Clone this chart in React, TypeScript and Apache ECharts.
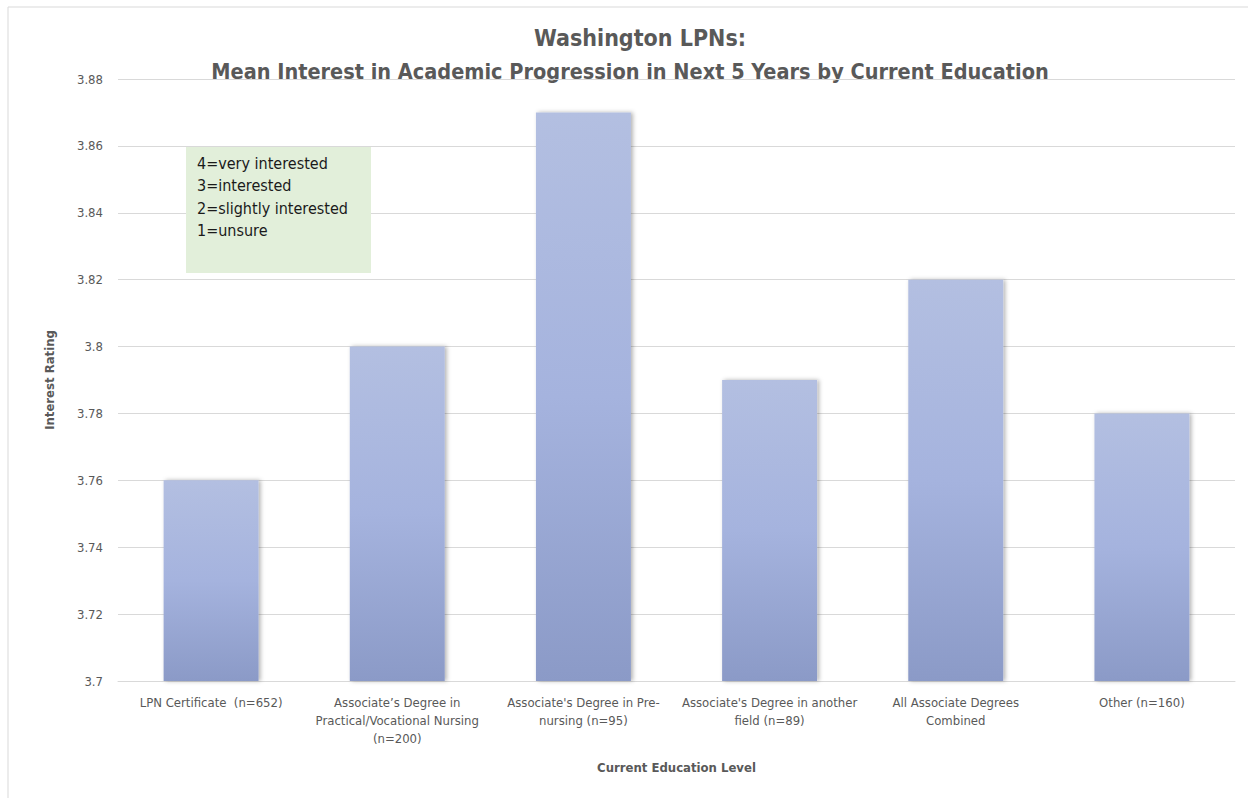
import React, { useEffect, useRef } from "react";
import * as echarts from "echarts";

const categories = [
  "LPN Certificate  (n=652)",
  "Associate’s Degree in\nPractical/Vocational Nursing\n(n=200)",
  "Associate's Degree in Pre-\nnursing (n=95)",
  "Associate's Degree in another\nfield (n=89)",
  "All Associate Degrees\nCombined",
  "Other (n=160)",
];
const meanInterest = [3.76, 3.8, 3.87, 3.79, 3.82, 3.78];
const yMin = 3.7;
const yMax = 3.88;
const yStep = 0.02;
const titleLine1 = "Washington LPNs:";
const titleLine2 = "Mean Interest in Academic Progression in Next 5 Years by Current Education";
const scaleNotes = ["4=very interested", "3=interested", "2=slightly interested", "1=unsure"];

const FONT = "'Liberation Sans Narrow', 'DejaVu Sans Condensed', 'Open Sans', sans-serif";

export default function App() {
  const ref = useRef<HTMLDivElement>(null);
  useEffect(() => {
    document.body.style.margin = "0";
    const chart = echarts.init(ref.current!, undefined, { renderer: "svg" });
    chart.setOption({
      animation: false,
      backgroundColor: "#ffffff",
      textStyle: { fontFamily: FONT },
      grid: { left: 118, right: 13, top: 79, bottom: 117, containLabel: false },
      xAxis: {
        type: "category",
        data: categories,
        axisLine: { show: true, lineStyle: { color: "#d9d9d9", width: 1 } },
        axisTick: { show: false },
        axisLabel: {
          interval: 0,
          color: "#595959",
          fontSize: 13,
          fontFamily: FONT,
          lineHeight: 18,
          margin: 12,
        },
        name: "Current Education Level",
        nameLocation: "middle",
        nameGap: 80,
        nameTextStyle: { color: "#595959", fontSize: 13, fontWeight: "bold", fontFamily: FONT },
      },
      yAxis: {
        type: "value",
        min: yMin,
        max: yMax,
        interval: yStep,
        axisLine: { show: false },
        axisTick: { show: false },
        splitLine: { lineStyle: { color: "#d9d9d9", width: 1 } },
        axisLabel: {
          color: "#595959",
          fontSize: 13,
          fontFamily: FONT,
          margin: 15,
          formatter: (v: number) => String(parseFloat(v.toFixed(2))),
        },
        name: "Interest Rating",
        nameLocation: "middle",
        nameGap: 62,
        nameRotate: 90,
        nameTextStyle: { color: "#595959", fontSize: 13, fontWeight: "bold", fontFamily: FONT },
      },
      series: [
        {
          type: "bar",
          data: meanInterest,
          barWidth: "51%",
          itemStyle: {
            color: new echarts.graphic.LinearGradient(0, 0, 0, 1, [
              { offset: 0, color: "#b3bfe1" },
              { offset: 0.5, color: "#a5b3de" },
              { offset: 1, color: "#8b9ac7" },
            ]),
            shadowColor: "rgba(0,0,0,0.3)",
            shadowBlur: 4,
            shadowOffsetX: 2,
          },
        },
      ],
      graphic: [
        {
          type: "rect",
          shape: { x: 8, y: 7, width: 1260, height: 820 },
          style: { fill: "none", stroke: "#d9d9d9", lineWidth: 1 },
          silent: true,
        },
        {
          type: "text",
          x: 640,
          y: 26,
          style: {
            text: titleLine1,
            textAlign: "center",
            fill: "#595959",
            font: `bold 23px ${FONT}`,
          },
        },
        {
          type: "text",
          x: 630,
          y: 60,
          style: {
            text: titleLine2,
            textAlign: "center",
            fill: "#595959",
            font: `bold 21.5px ${FONT}`,
          },
        },
        {
          type: "rect",
          shape: { x: 186, y: 147, width: 185, height: 126 },
          style: { fill: "#e2efda" },
          z: 10,
        },
        {
          type: "text",
          x: 197,
          y: 152,
          z: 11,
          style: {
            text: scaleNotes.join("\n"),
            fill: "#1a1a1a",
            font: `16px ${FONT}`,
            lineHeight: 22.5,
          },
        },
      ],
    });
    return () => chart.dispose();
  }, []);
  return <div ref={ref} style={{ width: 1248, height: 798 }} />;
}
